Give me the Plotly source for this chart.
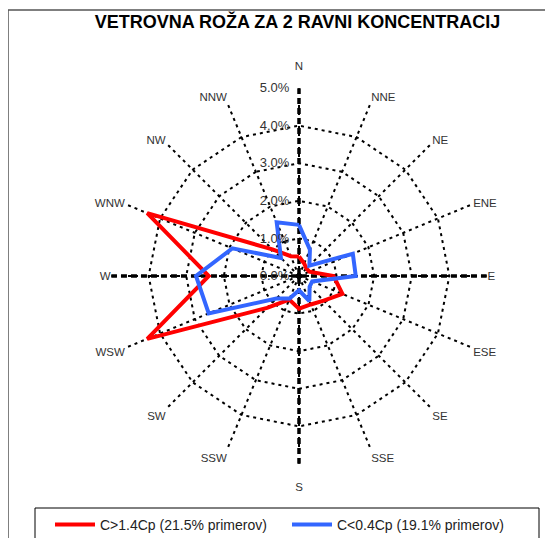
import plotly.graph_objects as go

directions = ["N", "NNE", "NE", "ENE", "E", "ESE", "SE", "SSE",
              "S", "SSW", "SW", "WSW", "W", "WNW", "NW", "NNW"]
red_name = "C>1.4Cp (21.5% primerov)"
red_values = [0.52, 0.36, 0.28, 0.30, 0.92, 1.25, 0.93, 0.82,
              0.87, 0.68, 1.20, 4.37, 2.40, 4.37, 1.00, 0.57]
blue_name = "C<0.4Cp (19.1% primerov)"
blue_values = [1.36, 0.76, 0.39, 1.55, 1.51, 0.38, 0.40, 0.72,
               0.38, 0.65, 0.85, 2.60, 2.74, 1.92, 0.68, 1.55]
radial_ticks = [0, 1, 2, 3, 4, 5]
radial_labels = ["0.0%", "1.0%", "2.0%", "3.0%", "4.0%", "5.0%"]
title_text = "VETROVNA ROŽA ZA 2 RAVNI KONCENTRACIJ"

# page body has an 8px margin, so the figure is drawn from (8, 8)
OFF = 8
W, H = 553 - OFF, 538 - OFF
cx, cy, R = 299 - OFF, 276 - OFF, 188

NB = "\u00a0"
radial_text = [t + NB * 2 for t in radial_labels]
dir_text = []
for d in directions:
    if d == "N":
        dir_text.append("N<br>" + NB)
    elif d == "S":
        dir_text.append(NB + "<br>S")
    else:
        dir_text.append(d)

fig = go.Figure()

rmax = radial_ticks[-1]
for a, b in [("N", "S"), ("E", "W")]:
    fig.add_trace(go.Scatterpolar(
        r=[rmax, 0, rmax], theta=[a, a, b], mode="lines",
        line=dict(color="black", width=3.5, dash="6px,4px"),
        showlegend=False, hoverinfo="skip"))

fig.add_trace(go.Scatterpolar(
    r=red_values + red_values[:1], theta=directions + directions[:1],
    mode="lines", name=red_name,
    line=dict(color="#FF0000", width=4)))
fig.add_trace(go.Scatterpolar(
    r=blue_values + blue_values[:1], theta=directions + directions[:1],
    mode="lines", name=blue_name,
    line=dict(color="#3366FF", width=4)))

fig.add_trace(go.Scatterpolar(
    r=[0], theta=["N"], mode="markers",
    marker=dict(color="black", size=9),
    showlegend=False, hoverinfo="skip"))

fig.update_layout(
    width=W, height=H,
    margin=dict(l=0, r=0, t=0, b=0, autoexpand=False),
    paper_bgcolor="white",
    font=dict(family="Liberation Sans, Arial, sans-serif", color="#222"),
    title=dict(text="<b>" + title_text + "</b>", x=(cx - 1.5) / W, xanchor="center",
               y=1 - (22 - OFF) / H, yanchor="middle",
               font=dict(size=18, color="black")),
    polar=dict(
        domain=dict(x=[(cx - R) / W, (cx + R) / W],
                    y=[(H - cy - R) / H, (H - cy + R) / H]),
        bgcolor="white",
        gridshape="linear",
        angularaxis=dict(
            categoryorder="array", categoryarray=directions,
            tickmode="array", tickvals=directions, ticktext=dir_text,
            direction="clockwise", rotation=90,
            showline=False, ticks="",
            gridcolor="black", griddash="3px,4px", gridwidth=2,
            tickfont=dict(size=11.5, color="#333")),
        radialaxis=dict(
            range=[0, rmax + 0.001], angle=90, tickangle=90,
            side="counterclockwise",
            tickvals=radial_ticks, ticktext=radial_text,
            showline=False, ticks="",
            gridcolor="black", griddash="3px,4px", gridwidth=2,
            tickfont=dict(size=13, color="#333")),
    ),
    showlegend=True,
    legend=dict(
        orientation="h", x=(50 - OFF) / W, xanchor="left",
        y=1 - (509 - OFF) / H, yanchor="top",
        borderwidth=0, bgcolor="rgba(0,0,0,0)",
        font=dict(size=14, color="#222"), itemwidth=40,
        entrywidth=182, entrywidthmode="pixels"),
    shapes=[
        dict(type="rect", xref="paper", yref="paper",
             x0=0, x1=1.2, y0=-0.2, y1=1 - (10 - OFF) / H,
             line=dict(color="#555", width=1.5), layer="below"),
        dict(type="rect", xref="paper", yref="paper",
             x0=(35 - OFF) / W, x1=(539 - OFF) / W, y0=-0.2, y1=1 - (508 - OFF) / H,
             line=dict(color="black", width=1), layer="below"),
    ],
)

fig.write_html("out.html")
